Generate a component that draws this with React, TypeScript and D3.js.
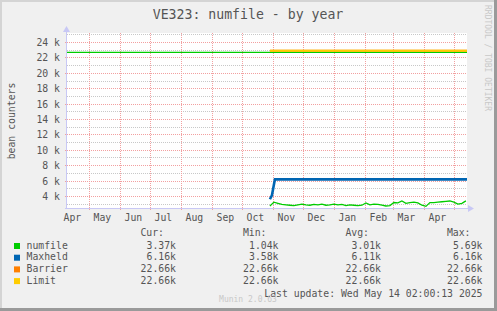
import React from "react";
import * as d3 from "d3";

const W = 497;
const H = 311;

const TITLE = "VE323: numfile - by year";
const Y_LABEL = "bean counters";
const START = "2024-04-09T02:00:00Z";
const END = "2025-05-14T02:00:00Z";

const Y_MAJOR = [4000, 6000, 8000, 10000, 12000, 14000, 16000, 18000, 20000, 22000, 24000];
const Y_MINOR = [3000, 5000, 7000, 9000, 11000, 13000, 15000, 17000, 19000, 21000, 23000, 25000];

// numfile: one sample every 4 days from 2024-10-29
const NUMFILE_START = "2024-10-29T00:00:00Z";
const numfileValues = [
  2700, 3200, 3050, 2900, 2850, 2800, 2750, 2850, 2950, 2850,
  2800, 2900, 2850, 2950, 2800, 2850, 2950, 2850, 2900, 2750,
  2850, 2800, 2750, 2800, 3100, 2850, 2950, 2900, 2800, 2700,
  2750, 3150, 3100, 3350, 3050, 3150, 3200, 3100, 2800, 2650,
  3150, 3150, 3200, 3250, 3300, 3350, 3200, 2950, 3050, 3370,
];

const maxheldDates = ["2024-10-29T00:00:00Z", "2024-10-31T00:00:00Z", "2024-11-03T00:00:00Z", "2025-05-14T02:00:00Z"];
const maxheldValues = [3580, 4100, 6160, 6160];

const barrierDates = ["2024-10-29T00:00:00Z", "2025-05-14T02:00:00Z"];
const barrierValues = [22660, 22660];
const limitDates = ["2024-10-29T00:00:00Z", "2025-05-14T02:00:00Z"];
const limitValues = [22660, 22660];
const earlyDates = ["2024-04-09T02:00:00Z", "2025-05-14T02:00:00Z"];
const earlyValues = [22660, 22660];

const legendNames = ["numfile", "Maxheld", "Barrier", "Limit"];
const legendColors = ["#00cc00", "#0066b3", "#ff8000", "#ffcc00"];
const legendCur = ["3.37k", "6.16k", "22.66k", "22.66k"];
const legendMin = ["1.04k", "3.58k", "22.66k", "22.66k"];
const legendAvg = ["3.01k", "6.11k", "22.66k", "22.66k"];
const legendMax = ["5.69k", "6.16k", "22.66k", "22.66k"];
const LAST_UPDATE = "Last update: Wed May 14 02:00:13 2025";

const FONT = "'DejaVu Sans Mono', monospace";
const TXT = "#555";

export default function App() {
  const left = 67, right = 467, top = 33, bottom = 208;
  const start = new Date(START);
  const end = new Date(END);
  const x = d3.scaleUtc().domain([start, end]).range([left, right]);
  const y = d3.scaleLinear().domain([2440, 25170]).range([bottom, top]);

  const line = d3.line<[Date, number]>().x((d) => x(d[0])).y((d) => y(d[1]));
  const nfStart = new Date(NUMFILE_START);
  const numfile: [Date, number][] = numfileValues.map((v, i) => [d3.utcDay.offset(nfStart, 4 * i), v]);
  const zip = (ds: string[], vs: number[]) => ds.map((d, i) => [new Date(d), vs[i]] as [Date, number]);

  const months = d3.utcMonth.range(d3.utcMonth.ceil(start), end);
  const labelMonths = d3.utcMonth
    .range(d3.utcMonth.floor(start), end)
    .map((m) => ({ m, cx: x(d3.utcDay.offset(m, 15)) - 1.5 }))
    .filter((o) => o.cx > left && o.cx < right);
  const fmt = d3.utcFormat("%b");

  const rowY = [248.5, 260.2, 271.9, 283.6];
  const colCur = 176, colMin = 278.5, colAvg = 381, colMax = 482.5;

  return (
    <div style={{ position: "fixed", left: 0, top: 0 }}>
      <svg width={W} height={H} style={{ display: "block" }} fontFamily={FONT}>
        <rect x={0} y={0} width={W} height={H} fill="#f0f0f0" />
        {/* frame */}
        <rect x={0} y={0} width={W} height={2} fill="#d4d4d4" />
        <rect x={0} y={0} width={2} height={H} fill="#d4d4d4" />
        <rect x={W - 3} y={0} width={3} height={H} fill="#9a9a9a" />
        <rect x={0} y={H - 3} width={W} height={3} fill="#9a9a9a" />

        <text x={248} y={19} textAnchor="middle" fontSize={13.2} fill={TXT}>{TITLE}</text>
        <text transform={`translate(14.5,121) rotate(-90)`} textAnchor="middle" fontSize={9.8} fill={TXT}>{Y_LABEL}</text>
        <text transform={`translate(484.5,5) rotate(90)`} textAnchor="start" fontSize={8} fill="#c8c8c8">RRDTOOL / TOBI OETIKER</text>

        <rect x={left} y={top} width={right - left} height={bottom - top} fill="#ffffff" />

        {/* minor grid */}
        {Y_MINOR.map((v) => (
          <line key={"mn" + v} x1={left} x2={right} y1={Math.round(y(v)) + 0.5} y2={Math.round(y(v)) + 0.5}
            stroke="#c8c8c8" strokeDasharray="1,1" />
        ))}
        {/* major grid */}
        {Y_MAJOR.map((v) => (
          <g key={"mj" + v}>
            <line x1={left - 2} x2={right} y1={Math.round(y(v)) + 0.5} y2={Math.round(y(v)) + 0.5}
              stroke="#f2a0a0" strokeDasharray="1,1" />
            <text x={60} y={Math.round(y(v)) + 3.5} textAnchor="end" fontSize={9.8} fill={TXT}>{`${v / 1000} k`}</text>
          </g>
        ))}
        {months.map((m) => (
          <line key={"vm" + m.getTime()} x1={Math.round(x(m)) + 0.5} x2={Math.round(x(m)) + 0.5} y1={top} y2={bottom + 2}
            stroke="#f2a0a0" strokeDasharray="1,1" />
        ))}
        {labelMonths.map((o) => (
          <text key={"lm" + o.m.getTime()} x={o.cx} y={221} textAnchor="middle" fontSize={9.8} fill={TXT}>{fmt(o.m)}</text>
        ))}

        {/* series */}
        <path d={line(zip(earlyDates, earlyValues)) || ""} fill="none" stroke="#00cc00" strokeWidth={1.3} />
        <path d={line(zip(barrierDates, barrierValues)) || ""} fill="none" stroke="#ff8000" strokeWidth={2} transform="translate(0,-1.6)" />
        <path d={line(zip(limitDates, limitValues)) || ""} fill="none" stroke="#ffcc00" strokeWidth={2} transform="translate(0,-1.6)" />
        <path d={line(zip(maxheldDates, maxheldValues)) || ""} fill="none" stroke="#0066b3" strokeWidth={2.6} />
        <path d={line(numfile) || ""} fill="none" stroke="#00cc00" strokeWidth={1.3} />

        {/* axes */}
        <line x1={left - 0.5} x2={left - 0.5} y1={bottom + 1} y2={top - 2} stroke="#c8c8f5" />
        <path d={`M${left - 4},${top - 1} L${left - 0.5},${top - 7} L${left + 3},${top - 1} Z`} fill="#c8c8f5" />
        <line x1={left - 2} x2={right + 2} y1={bottom + 0.5} y2={bottom + 0.5} stroke="#c8c8f5" />
        <path d={`M${right + 1},${bottom - 3} L${right + 7},${bottom + 0.5} L${right + 1},${bottom + 4} Z`} fill="#c8c8f5" />

        {/* legend */}
        <text x={colCur - 12} y={236} textAnchor="end" fontSize={9.8} fill={TXT}>Cur:</text>
        <text x={colMin - 12} y={236} textAnchor="end" fontSize={9.8} fill={TXT}>Min:</text>
        <text x={colAvg - 12} y={236} textAnchor="end" fontSize={9.8} fill={TXT}>Avg:</text>
        <text x={colMax - 12} y={236} textAnchor="end" fontSize={9.8} fill={TXT}>Max:</text>
        {legendNames.map((n, i) => (
          <g key={n}>
            <rect x={14} y={rowY[i] - 5.5} width={6} height={6} fill={legendColors[i]} />
            <text x={26.5} y={rowY[i]} fontSize={9.8} fill={TXT}>{n}</text>
            <text x={colCur} y={rowY[i]} textAnchor="end" fontSize={9.8} fill={TXT}>{legendCur[i]}</text>
            <text x={colMin} y={rowY[i]} textAnchor="end" fontSize={9.8} fill={TXT}>{legendMin[i]}</text>
            <text x={colAvg} y={rowY[i]} textAnchor="end" fontSize={9.8} fill={TXT}>{legendAvg[i]}</text>
            <text x={colMax} y={rowY[i]} textAnchor="end" fontSize={9.8} fill={TXT}>{legendMax[i]}</text>
          </g>
        ))}
        <text x={482.5} y={297} textAnchor="end" fontSize={9.8} fill={TXT}>{LAST_UPDATE}</text>
        <text x={248} y={302} textAnchor="middle" fontSize={8} fill="#c8c8c8">Munin 2.0.63</text>
      </svg>
    </div>
  );
}
